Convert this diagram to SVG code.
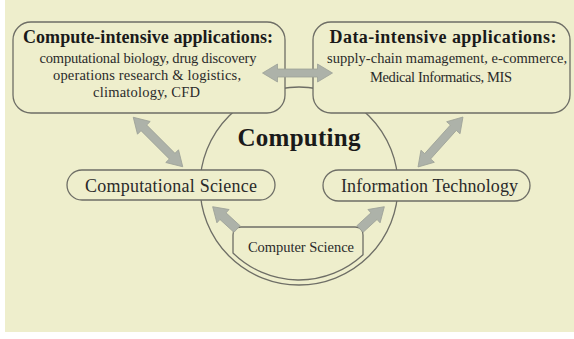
<svg xmlns="http://www.w3.org/2000/svg" width="574" height="339" viewBox="0 0 574 339">
<style>
  .bg{fill:#eeeecc}
  .box{fill:#eeeecc;stroke:#6e6e66;stroke-width:1.3}
  .line{fill:none;stroke:#6e6e66;stroke-width:1.3}
  .arr{fill:#adb2a9;stroke:#9ca197;stroke-width:0.8}
  text{font-family:"Liberation Serif","DejaVu Serif","Noto Serif",Tinos,"Times New Roman",serif;fill:#2a2a2a;text-anchor:middle}
  .title{font-weight:bold;font-size:18px;fill:#1a1a1a}
  .body{font-size:14.5px}
  .pill{font-size:18px}
</style>
<defs>
  <path id="dbl" d="M-35,0 L-20,-9 L-20,-4 L20,-4 L20,-9 L35,0 L20,9 L20,4 L-20,4 L-20,9 Z"/>
  <path id="sgl" d="M0,-4.5 L19,-4.5 L19,-9 L33,0 L19,9 L19,4.5 L0,4.5 Z"/>
</defs>
<rect x="0" y="0" width="574" height="339" fill="#ffffff"/>
<rect class="bg" x="5" y="0" width="569" height="332"/>

<g id="computing">
  <circle class="line" cx="299" cy="186" r="99"/>
  <text x="299" y="146" style="font-weight:bold;font-size:25px;fill:#1a1a1a" textLength="123">Computing</text>
</g>

<g id="compute-intensive">
  <rect class="box" x="13" y="22" width="272" height="91" rx="18"/>
  <text class="title" x="148" y="43" textLength="250">Compute-intensive applications:</text>
  <text class="body" x="148" y="63" textLength="217">computational biology, drug discovery</text>
  <text class="body" x="147" y="80" textLength="188">operations research &amp; logistics,</text>
  <text class="body" x="146.5" y="96.5" textLength="107">climatology, CFD</text>
</g>

<g id="data-intensive">
  <rect class="box" x="313" y="22" width="257" height="91" rx="18"/>
  <text class="title" x="443" y="43" textLength="227">Data-intensive applications:</text>
  <text class="body" x="447" y="63" textLength="240">supply-chain mamagement, e-commerce,</text>
  <text class="body" x="441" y="81.5" textLength="142">Medical Informatics, MIS</text>
</g>

<g id="computational-science">
  <rect class="box" x="67" y="170" width="208" height="30" rx="15"/>
  <text class="pill" x="171" y="192" textLength="172">Computational Science</text>
</g>

<g id="information-technology">
  <rect class="box" x="323" y="170" width="207" height="31" rx="15.5"/>
  <text class="pill" x="429.5" y="192" textLength="177">Information Technology</text>
</g>

<g id="computer-science">
  <path class="box" d="M233,253 L233,235 Q233,227 241,227 L355,227 Q363,227 363,235 L363,254.8 A94,94 0 0 1 233,253 Z"/>
  <text x="301" y="252" style="font-size:14.5px" textLength="106">Computer Science</text>
</g>

<g id="connectors">
  <use href="#dbl" class="arr" transform="translate(297.5,73)"/>
  <use href="#dbl" class="arr" transform="translate(158,142) rotate(45)"/>
  <use href="#dbl" class="arr" transform="translate(440.5,142) rotate(-48) scale(0.96,1)"/>
  <use href="#sgl" class="arr" transform="translate(237,229) rotate(-137.5)"/>
  <use href="#sgl" class="arr" transform="translate(360,229) rotate(-42.5)"/>
</g>
</svg>
